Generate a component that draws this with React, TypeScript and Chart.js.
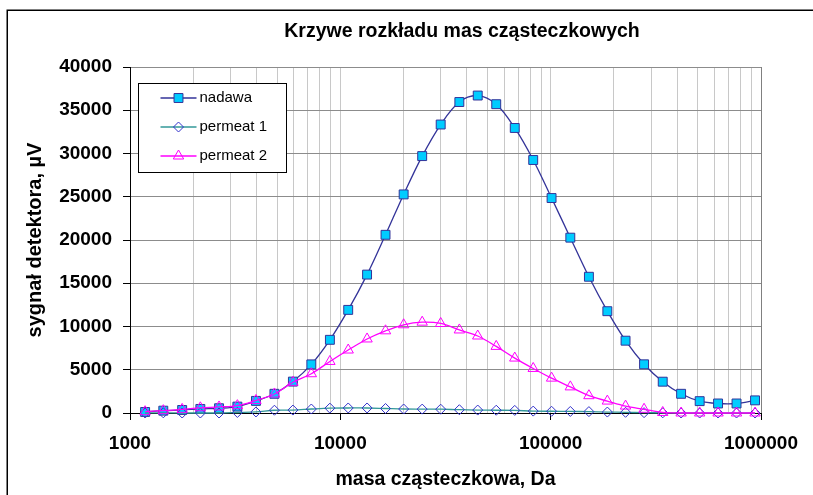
import React, { useEffect, useRef } from 'react';
import { Chart, registerables } from 'chart.js';

Chart.register(...registerables);

const TITLE = 'Krzywe rozkładu mas cząsteczkowych';
const X_TITLE = 'masa cząsteczkowa, Da';
const Y_TITLE = 'sygnał detektora, µV';
const SERIES_NAMES = ['nadawa', 'permeat 1', 'permeat 2'];

const MASS = [
  1180, 1440, 1770, 2160, 2650, 3240, 3970, 4860, 5950, 7280, 8920, 10900,
  13400, 16400, 20000, 24500, 30000, 36800, 45000, 55100, 67500, 82600,
  101000, 124000, 152000, 186000, 227000, 278000, 341000, 417000, 511000,
  625000, 765000, 937000,
];
const NADAWA = [
  120, 270, 350, 470, 550, 740, 1400, 2220, 3630, 5620, 8460, 11920, 16000,
  20600, 25270, 29700, 33350, 35950, 36700, 35700, 32950, 29250, 24850, 20270,
  15750, 11770, 8360, 5630, 3620, 2220, 1370, 1100, 1100, 1460,
];
const PERMEAT1 = [
  0, 20, 0, 0, 0, 60, 120, 320, 340, 460, 560, 580, 580, 520, 460, 450, 440,
  380, 340, 320, 300, 220, 200, 180, 160, 110, 80, 40, 20, 0, 0, 0, 0, 0,
];
const PERMEAT2 = [
  150, 270, 420, 600, 700, 850, 1450, 2200, 3550, 4540, 5960, 7280, 8560,
  9500, 10200, 10500, 10350, 9600, 8900, 7700, 6350, 5150, 4030, 3020, 2000,
  1380, 800, 430, 60, 0, 0, 0, 0, 0,
];

const X_TICK_LABELS = [1000, 10000, 100000, 1000000];
const Y_MIN = 0;
const Y_MAX = 40000;
const Y_STEP = 5000;

const FONT = '"Liberation Sans", Arial, sans-serif';

function drawMarker(ctx: CanvasRenderingContext2D, style: string, x: number, y: number, r: number, fill: string, stroke: string) {
  ctx.save();
  ctx.beginPath();
  if (style === 'rect') {
    const s = Math.SQRT1_2 * r;
    ctx.rect(x - s, y - s, 2 * s, 2 * s);
  } else if (style === 'rectRot') {
    ctx.moveTo(x, y - r);
    ctx.lineTo(x + r, y);
    ctx.lineTo(x, y + r);
    ctx.lineTo(x - r, y);
    ctx.closePath();
  } else {
    let rad = 0;
    ctx.moveTo(x + Math.sin(rad) * r, y - Math.cos(rad) * r);
    rad += (2 * Math.PI) / 3;
    ctx.lineTo(x + Math.sin(rad) * r, y - Math.cos(rad) * r);
    rad += (2 * Math.PI) / 3;
    ctx.lineTo(x + Math.sin(rad) * r, y - Math.cos(rad) * r);
    ctx.closePath();
  }
  if (fill && fill !== 'transparent') {
    ctx.fillStyle = fill;
    ctx.fill();
  }
  ctx.strokeStyle = stroke;
  ctx.lineWidth = 1;
  ctx.stroke();
  ctx.restore();
}

const framePlugin = {
  id: 'frameAndTitle',
  beforeDraw(chart: any) {
    const ctx = chart.ctx as CanvasRenderingContext2D;
    ctx.save();
    ctx.fillStyle = '#ffffff';
    ctx.fillRect(0, 0, chart.width, chart.height);
    ctx.strokeStyle = '#000000';
    ctx.lineWidth = 1.5;
    ctx.beginPath();
    ctx.moveTo(7.25, chart.height + 2);
    ctx.lineTo(7.25, 10.25);
    ctx.lineTo(chart.width + 2, 10.25);
    ctx.stroke();
    ctx.restore();
  },
  afterDraw(chart: any) {
    const ctx = chart.ctx as CanvasRenderingContext2D;
    ctx.save();
    ctx.fillStyle = '#000000';
    ctx.font = `bold 19.5px ${FONT}`;
    ctx.textAlign = 'center';
    ctx.textBaseline = 'middle';
    ctx.fillText(TITLE, 462, 32);
    ctx.restore();
  },
};

const legendPlugin = {
  id: 'boxLegend',
  afterDraw(chart: any) {
    const ctx = chart.ctx as CanvasRenderingContext2D;
    const { left, top } = chart.chartArea;
    const bx = Math.round(left + 8) + 0.5;
    const by = Math.round(top + 16) + 0.5;
    const bw = 148;
    const bh = 89;
    ctx.save();
    ctx.fillStyle = '#ffffff';
    ctx.fillRect(bx, by, bw, bh);
    ctx.strokeStyle = '#000000';
    ctx.lineWidth = 1;
    ctx.strokeRect(bx, by, bw, bh);
    chart.data.datasets.forEach((ds: any, i: number) => {
      const cy = by + 14.5 + i * 29;
      ctx.strokeStyle = ds.borderColor;
      ctx.lineWidth = ds.borderWidth;
      ctx.beginPath();
      ctx.moveTo(bx + 22, cy);
      ctx.lineTo(bx + 58, cy);
      ctx.stroke();
      drawMarker(ctx, ds.pointStyle, bx + 40, cy, ds.pointRadius, ds.pointBackgroundColor, ds.pointBorderColor);
      ctx.fillStyle = '#000000';
      ctx.font = `15px ${FONT}`;
      ctx.textAlign = 'left';
      ctx.textBaseline = 'middle';
      ctx.fillText(ds.label, bx + 61, cy);
    });
    ctx.restore();
  },
};

const isDecade = (v: number) => {
  const l = Math.log10(v);
  return Math.abs(l - Math.round(l)) < 1e-9;
};

export default function App() {
  const canvasRef = useRef<HTMLCanvasElement | null>(null);

  useEffect(() => {
    const canvas = canvasRef.current;
    if (!canvas) return;
    const toPoints = (arr: number[]) => MASS.map((x, i) => ({ x, y: arr[i] }));

    const chart = new Chart(canvas, {
      type: 'line',
      data: {
        datasets: [
          {
            label: SERIES_NAMES[0],
            data: toPoints(NADAWA),
            borderColor: '#333399',
            borderWidth: 1.3,
            pointStyle: 'rect',
            pointRadius: 6.3,
            pointBackgroundColor: '#00CCFF',
            pointBorderColor: '#333399',
            pointBorderWidth: 1,
            tension: 0.35,
            order: 3,
            clip: false,
          },
          {
            label: SERIES_NAMES[1],
            data: toPoints(PERMEAT1),
            borderColor: '#339999',
            borderWidth: 1.3,
            pointStyle: 'rectRot',
            pointRadius: 5,
            pointBackgroundColor: 'transparent',
            pointBorderColor: '#3333CC',
            pointBorderWidth: 1,
            tension: 0.35,
            order: 2,
            clip: false,
          },
          {
            label: SERIES_NAMES[2],
            data: toPoints(PERMEAT2),
            borderColor: '#FF00FF',
            borderWidth: 1.3,
            pointStyle: 'triangle',
            pointRadius: 6,
            pointBackgroundColor: 'transparent',
            pointBorderColor: '#FF00FF',
            pointBorderWidth: 1,
            tension: 0.35,
            order: 1,
            clip: false,
          },
        ] as any,
      },
      options: {
        responsive: false,
        animation: false,
        devicePixelRatio: 1,
        color: '#000000',
        layout: { padding: { left: 0, right: 52, top: 67, bottom: 0 } },
        plugins: {
          legend: { display: false },
          title: { display: false },
          tooltip: { enabled: false },
        },
        scales: {
          x: {
            type: 'logarithmic',
            min: X_TICK_LABELS[0],
            max: X_TICK_LABELS[X_TICK_LABELS.length - 1],
            afterBuildTicks: (scale: any) => {
              const ticks: any[] = [];
              for (let d = 0; d < X_TICK_LABELS.length - 1; d++) {
                const base = X_TICK_LABELS[d];
                for (let m = 1; m <= 9; m++) ticks.push({ value: base * m });
              }
              ticks.push({ value: X_TICK_LABELS[X_TICK_LABELS.length - 1] });
              scale.ticks = ticks;
            },
            afterFit: (scale: any) => {
              scale.height = 82;
            },
            ticks: {
              autoSkip: false,
              maxRotation: 0,
              minRotation: 0,
              padding: 12,
              color: '#000000',
              font: { family: FONT, size: 19, weight: 'bold' },
              callback: (value: any) => (X_TICK_LABELS.includes(Number(value)) ? String(value) : ''),
            },
            grid: {
              color: (ctx: any) => (ctx.tick && ctx.tick.value === X_TICK_LABELS[X_TICK_LABELS.length - 1] ? '#808080' : '#C8C8C8'),
              tickColor: (ctx: any) => (ctx.tick && isDecade(ctx.tick.value) ? '#000000' : 'rgba(0,0,0,0)'),
              tickLength: 7,
              lineWidth: 1,
            },
            border: { color: '#000000', width: 1 },
            title: {
              display: true,
              text: X_TITLE,
              color: '#000000',
              font: { family: FONT, size: 19.5, weight: 'bold' },
              padding: { top: 0, bottom: 4 },
            },
          },
          y: {
            type: 'linear',
            min: Y_MIN,
            max: Y_MAX,
            afterFit: (scale: any) => {
              scale.width = 130;
            },
            ticks: {
              stepSize: Y_STEP,
              padding: 11,
              color: '#000000',
              font: { family: FONT, size: 19, weight: 'bold' },
              callback: (value: any) => String(value),
            },
            grid: {
              color: '#8C8C8C',
              tickColor: '#000000',
              tickLength: 7,
              lineWidth: 1,
            },
            border: { color: '#000000', width: 1 },
            title: {
              display: true,
              text: Y_TITLE,
              color: '#000000',
              font: { family: FONT, size: 20, weight: 'bold' },
              padding: { top: 23, bottom: 0 },
            },
          },
        },
      } as any,
      plugins: [framePlugin, legendPlugin],
    });

    return () => chart.destroy();
  }, []);

  return (
    <div style={{ position: 'absolute', left: 0, top: 0, width: 813, height: 495, background: '#ffffff' }}>
      <canvas ref={canvasRef} width={813} height={495} style={{ display: 'block', width: 813, height: 495 }} />
    </div>
  );
}
